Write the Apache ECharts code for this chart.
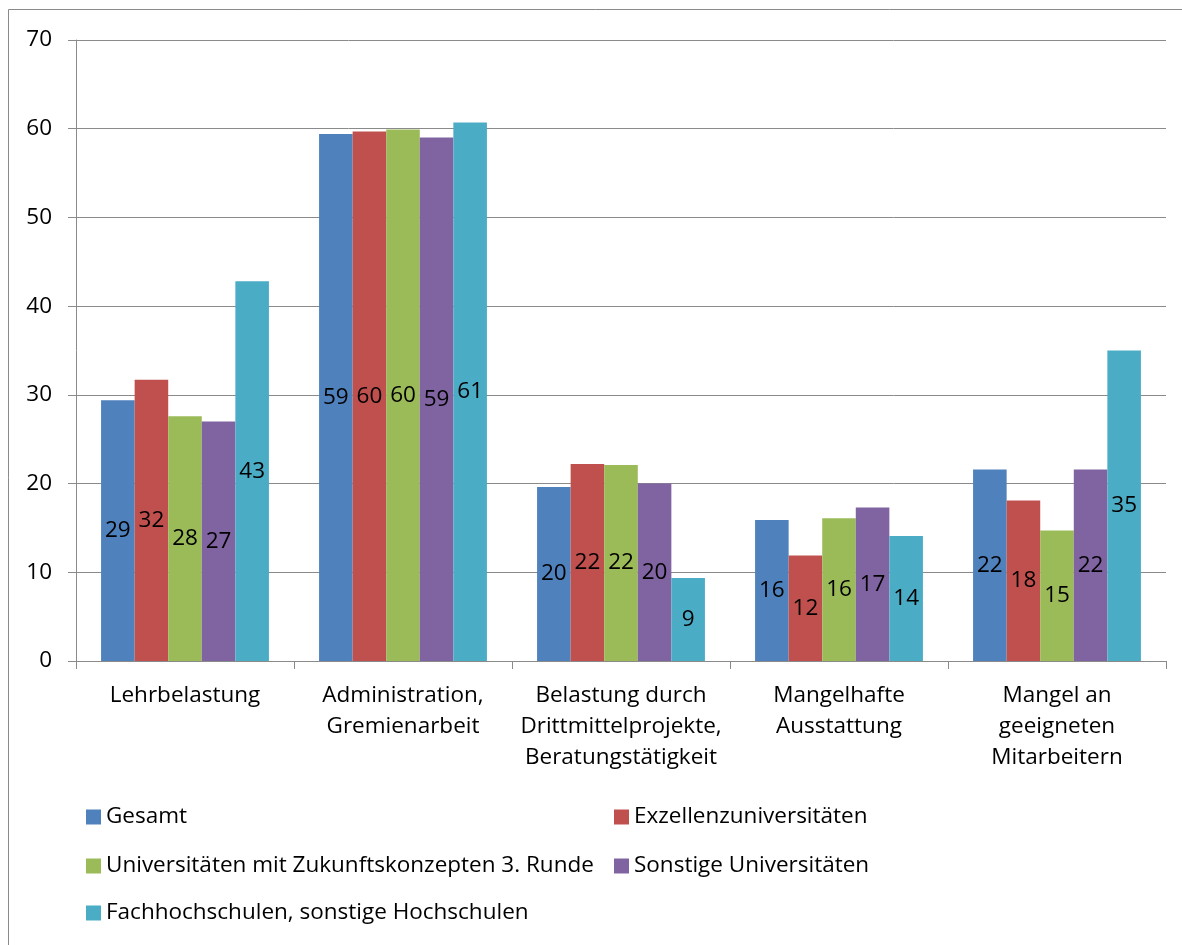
<!DOCTYPE html>
<html>
<head>
<meta charset="utf-8">
<script src="https://cdn.jsdelivr.net/npm/echarts@6/dist/echarts.min.js"></script>
<style>html,body{margin:0;padding:0;background:#fff}#c{width:1182px;height:945px}</style>
</head>
<body>
<div id="c"></div>
<script>
const categories = ["Lehrbelastung", "Administration,\nGremienarbeit", "Belastung durch\nDrittmittelprojekte,\nBeratungstätigkeit", "Mangelhafte\nAusstattung", "Mangel an\ngeeigneten\nMitarbeitern"];
const seriesNames = ["Gesamt", "Exzellenzuniversitäten", "Universitäten mit Zukunftskonzepten 3. Runde", "Sonstige Universitäten", "Fachhochschulen, sonstige Hochschulen"];
const gesamt = [29.4, 59.4, 19.6, 15.9, 21.6];
const exzellenz = [31.7, 59.7, 22.2, 11.9, 18.1];
const zukunft = [27.6, 59.9, 22.1, 16.1, 14.7];
const sonstige = [27.0, 59.0, 20.0, 17.3, 21.6];
const fachhoch = [42.8, 60.7, 9.35, 14.1, 35.0];
const yTicks = [0, 10, 20, 30, 40, 50, 60, 70];

const colors = ["#4F81BD", "#C0504D", "#9BBB59", "#8064A2", "#4BACC6"];
const values = [gesamt, exzellenz, zukunft, sonstige, fachhoch];
const FONT = "Open Sans";
const FS = 22.5;

const legendPos = [[86, 804], [614, 804], [86, 853], [614, 853], [86, 900]];

const chart = echarts.init(document.getElementById('c'), null, {renderer: 'canvas'});
chart.setOption({
  animation: false,
  backgroundColor: '#fff',
  textStyle: {fontFamily: FONT},
  graphic: [{
    type: 'rect', z: -10, silent: true,
    shape: {x: 8.5, y: 9.5, width: 1300, height: 1100},
    style: {fill: 'none', stroke: '#8a8a8a', lineWidth: 1}
  }],
  legend: seriesNames.map((n, i) => ({
    data: [n], left: legendPos[i][0], top: legendPos[i][1], padding: 0,
    itemWidth: 15, itemHeight: 15, icon: 'rect',
    textStyle: {fontFamily: FONT, fontSize: FS, color: '#000', lineHeight: 26}
  })),
  grid: {left: 76, right: 16, top: 40, bottom: 284, containLabel: false},
  xAxis: {
    type: 'category', data: categories,
    axisLine: {show: true, lineStyle: {color: '#8a8a8a', width: 1}},
    axisTick: {show: true, alignWithLabel: false, interval: 0, length: 8, lineStyle: {color: '#8a8a8a'}},
    axisLabel: {interval: 0, margin: 19, color: '#000', fontFamily: FONT, fontSize: FS, lineHeight: 31, align: 'center'}
  },
  yAxis: {
    type: 'value', min: 0, max: 70, interval: 10,
    axisLine: {show: true, lineStyle: {color: '#8a8a8a', width: 1}},
    axisTick: {show: true, length: 8, lineStyle: {color: '#8a8a8a'}},
    axisLabel: {margin: 24, color: '#000', fontFamily: FONT, fontSize: FS,
      formatter: v => yTicks.includes(v) ? String(v) : ''},
    splitLine: {show: true, lineStyle: {color: '#8a8a8a', width: 1}}
  },
  series: seriesNames.map((n, i) => ({
    name: n, type: 'bar', data: values[i],
    barGap: '0%', barCategoryGap: '23%',
    itemStyle: {color: colors[i]},
    label: {show: true, position: 'inside', color: '#000', fontFamily: FONT, fontSize: FS,
      formatter: p => String(Math.round(p.value))}
  }))
});
</script>
</body>
</html>
